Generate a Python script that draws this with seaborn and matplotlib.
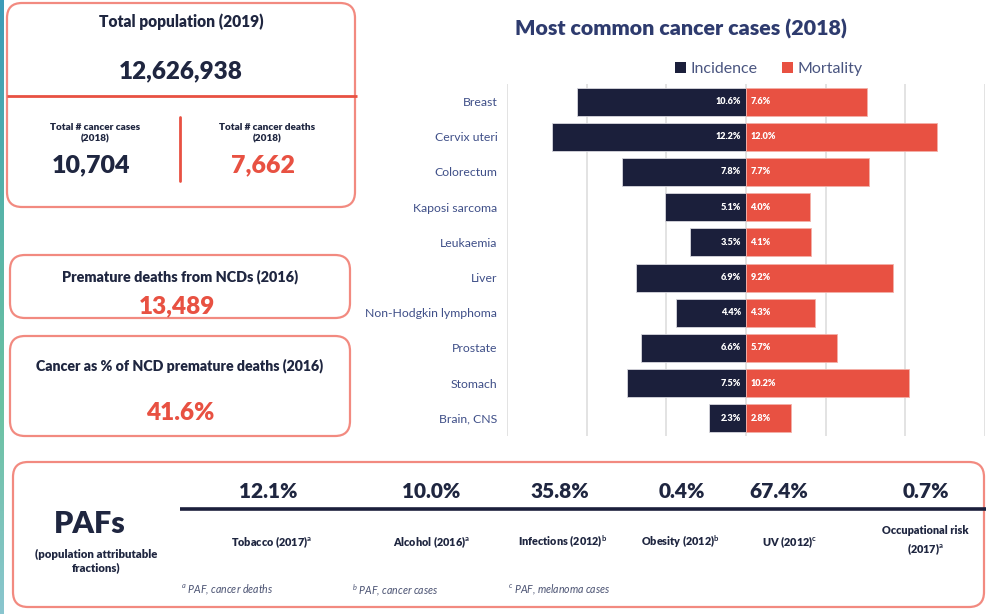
import matplotlib
matplotlib.use("Agg")
import matplotlib.pyplot as plt
import numpy as np
import pandas as pd
import seaborn as sns
from matplotlib.patches import FancyBboxPatch
from matplotlib.colors import LinearSegmentedColormap

# ---------------- data ----------------
sites = ["Breast", "Cervix uteri", "Colorectum", "Kaposi sarcoma", "Leukaemia",
         "Liver", "Non-Hodgkin lymphoma", "Prostate", "Stomach", "Brain, CNS"]
incidence = [10.6, 12.2, 7.8, 5.1, 3.5, 6.9, 4.4, 6.6, 7.5, 2.3]
mortality = [7.6, 12.0, 7.7, 4.0, 4.1, 9.2, 4.3, 5.7, 10.2, 2.8]

total_population = "12,626,938"
total_cases = "10,704"
total_deaths = "7,662"
premature_ncd = "13,489"
cancer_pct_ncd = "41.6%"

paf_values = [12.1, 10.0, 35.8, 0.4, 67.4, 0.7]
paf_labels = [r"Tobacco (2017)$^{\mathbf{a}}$", r"Alcohol (2016)$^{\mathbf{a}}$",
              r"Infections (2012)$^{\mathbf{b}}$", r"Obesity (2012)$^{\mathbf{b}}$",
              r"UV (2012)$^{\mathbf{c}}$", "Occupational risk\n" + r"(2017)$^{\mathbf{a}}$"]
footnotes = [r"$^{a}$ PAF, cancer deaths", r"$^{b}$ PAF, cancer cases",
             r"$^{c}$ PAF, melanoma cases"]

# ---------------- style ----------------
sns.set_theme(style="white")
FONT = ["Lato", "DejaVu Sans"]
plt.rcParams["font.family"] = FONT
plt.rcParams["mathtext.fontset"] = "custom"
plt.rcParams["mathtext.rm"] = "Lato"
plt.rcParams["mathtext.it"] = "Lato:italic"
plt.rcParams["mathtext.bf"] = "Lato:bold"

NAVY = "#1b1f3b"
RED = "#e85142"
BOX = "#f28a80"
TXT = "#1f2640"
TICK = "#3f4f88"
HB = "heavy"

W, H = 986, 614
fig = plt.figure(figsize=(W / 100, H / 100), dpi=100)
fig.patch.set_facecolor("white")

# overlay axes in pixel coordinates
ov = fig.add_axes([0, 0, 1, 1], zorder=0)
ov.set_xlim(0, W)
ov.set_ylim(H, 0)
ov.axis("off")

# teal strip at left
cmap = LinearSegmentedColormap.from_list("strip", ["#3d9bb8", "#56b3a9", "#6cc2a2", "#8ac6cf"])
grad = np.linspace(0, 1, 256).reshape(-1, 1)
ov.imshow(grad, cmap=cmap, extent=[0, 4, H, 0], aspect="auto", zorder=1)


def rbox(x0, y0, x1, y1, r=15, lw=1.6):
    p = FancyBboxPatch((x0, y0), x1 - x0, y1 - y0,
                       boxstyle=f"round,pad=0,rounding_size={r}",
                       fc="white", ec=BOX, lw=lw, zorder=2)
    ov.add_patch(p)


# box 1
rbox(7, 3, 355, 207)
ov.plot([7, 357], [96, 96], color=RED, lw=2, zorder=3, solid_capstyle="butt")
ov.plot([180, 180], [117, 181], color=RED, lw=2, zorder=3)
ov.text(181, 22, "Total population (2019)", ha="center", va="center",
        fontsize=11.2, fontweight=HB, color=TXT, zorder=4)
ov.text(181, 71, total_population, ha="center", va="center",
        fontsize=17.5, fontweight=HB, color=TXT, zorder=4)
ov.text(95, 133, "Total # cancer cases\n(2018)", ha="center", va="center",
        fontsize=7.2, fontweight=HB, color=TXT, linespacing=1.35, zorder=4)
ov.text(91, 165, total_cases, ha="center", va="center",
        fontsize=18, fontweight=HB, color=TXT, zorder=4)
ov.text(267, 133, "Total # cancer deaths\n(2018)", ha="center", va="center",
        fontsize=7.2, fontweight=HB, color=TXT, linespacing=1.35, zorder=4)
ov.text(263, 165, total_deaths, ha="center", va="center",
        fontsize=18, fontweight=HB, color=RED, zorder=4)

# box 2
rbox(10, 255, 350, 318)
ov.text(180, 277, "Premature deaths from NCDs (2016)", ha="center", va="center",
        fontsize=10.4, fontweight=HB, color=TXT, zorder=4)
ov.text(177, 306, premature_ncd, ha="center", va="center",
        fontsize=17.5, fontweight=HB, color=RED, zorder=4)

# box 3
rbox(10, 336, 350, 436)
ov.text(180, 366, "Cancer as % of NCD premature deaths (2016)", ha="center", va="center",
        fontsize=10.2, fontweight=HB, color=TXT, zorder=4)
ov.text(180, 413, cancer_pct_ncd, ha="center", va="center",
        fontsize=17.5, fontweight=HB, color=RED, zorder=4)

# box 4 (PAFs)
rbox(13, 462, 984, 607)
ov.text(90, 524, "PAFs", ha="center", va="center",
        fontsize=22, fontweight=HB, color=TXT, zorder=4)
ov.text(96, 561, "(population attributable\nfractions)", ha="center", va="center",
        fontsize=8.2, fontweight=HB, color=TXT, linespacing=1.3, zorder=4)
ov.plot([180, 986], [509, 509], color=NAVY, lw=2.6, zorder=3, solid_capstyle="butt")
paf_val_x = [268, 431, 560, 682, 779, 926]
paf_lab_x = [272, 432, 563, 680, 790, 925]
for v, lab, xv, xl in zip(paf_values, paf_labels, paf_val_x, paf_lab_x):
    ov.text(xv, 492, f"{v:.1f}%", ha="center", va="center",
            fontsize=15, fontweight=HB, color=TXT, zorder=4)
    ov.text(xl, 542 if "\n" not in lab else 541, lab, ha="center", va="center",
            fontsize=7.8, fontweight=HB, color=TXT, linespacing=1.5, zorder=4)
for fn, xf in zip(footnotes, [181, 352, 508]):
    ov.text(xf, 590, fn, ha="left", va="center", fontsize=7.6, style="italic",
            color="#4a5272", zorder=4)

# title
fig.text(681 / W, 1 - 29 / H, "Most common cancer cases (2018)", ha="center", va="center",
         fontsize=15.4, fontweight=HB, color="#2e3b6e")

# ---------------- bar chart ----------------
ax = fig.add_axes([507 / W, 1 - 436 / H, 478 / W, 352 / H], zorder=2)
ax.set_facecolor("none")

df = pd.DataFrame({"site": sites, "incidence": incidence, "mortality": mortality})
df["neg_inc"] = -df["incidence"]

sns.barplot(data=df, y="site", x="neg_inc", orient="h", color=NAVY, saturation=1,
            width=0.8, edgecolor="#d8d8de", linewidth=0.6, ax=ax, label="Incidence")
sns.barplot(data=df, y="site", x="mortality", orient="h", color=RED, saturation=1,
            width=0.8, edgecolor="#f3b0a8", linewidth=0.6, ax=ax, label="Mortality")

ax.set_xlim(-15, 15)
ax.set_ylim(9.5, -0.5)
ax.set_xticks([-15, -10, -5, 0, 5, 10, 15])
ax.grid(axis="x", color="#dedede", lw=1.2)
ax.set_axisbelow(True)
ax.set_xticklabels([])
ax.tick_params(axis="x", length=0)
ax.tick_params(axis="y", length=0, pad=7, labelsize=8.8, labelcolor=TICK)
for lbl in ax.get_yticklabels():
    lbl.set_fontfamily(FONT)
ax.set_xlabel("")
ax.set_ylabel("")
for s in ax.spines.values():
    s.set_visible(False)

for i, (a, b) in enumerate(zip(incidence, mortality)):
    ax.text(-0.3, i, f"{a:.1f}%", ha="right", va="center", fontsize=6.6,
            fontweight=HB, color="white")
    ax.text(0.27, i, f"{b:.1f}%", ha="left", va="center", fontsize=6.6,
            fontweight=HB, color="white")

leg = ax.legend(loc="lower left", bbox_to_anchor=(667 / W, 1 - 84 / H),
                bbox_transform=fig.transFigure, ncol=2, frameon=False,
                fontsize=11.5, handlelength=0.7, handleheight=0.7,
                handletextpad=0.3, columnspacing=1.5, borderpad=0)
for t in leg.get_texts():
    t.set_color("#4a5580")
for h in leg.legend_handles:
    h.set_edgecolor("none")

fig.savefig("out.png", dpi=100)
